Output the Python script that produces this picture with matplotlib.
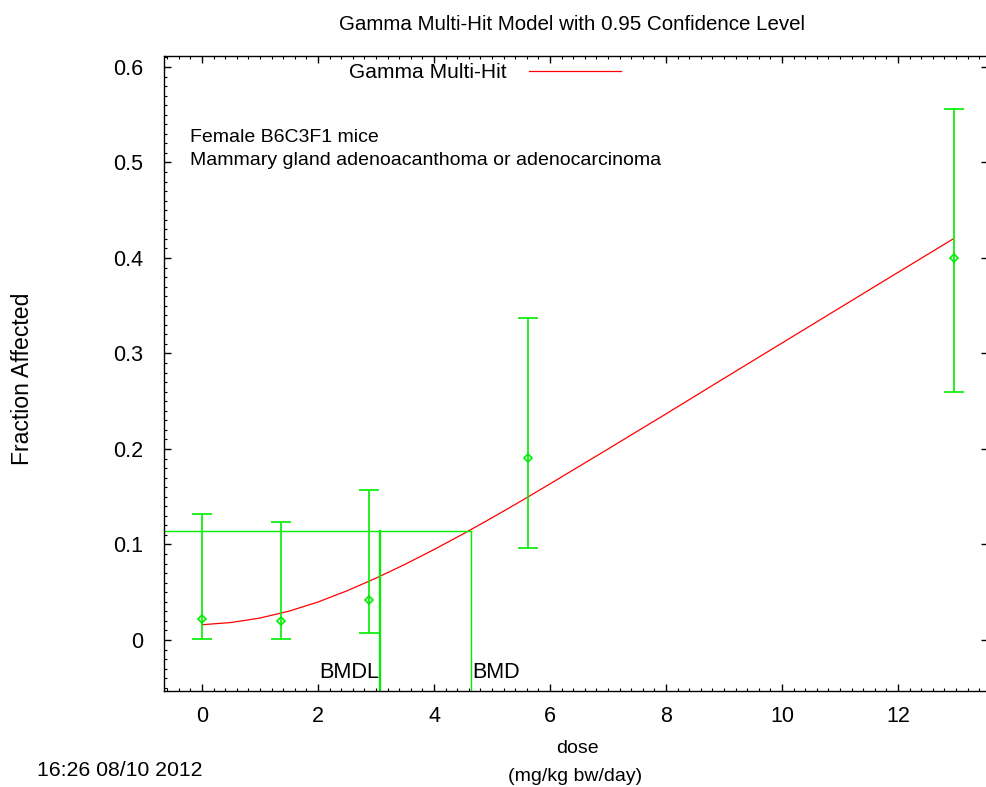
import matplotlib
matplotlib.use("Agg")
from matplotlib import pyplot as plt
from matplotlib.ticker import MultipleLocator

plt.rcParams["font.family"] = ["Liberation Sans", "DejaVu Sans"]
plt.rcParams["font.size"] = 14

# observed data
doses = [0, 1.37, 2.88, 5.62, 12.97]
frac = [0.0217, 0.0202, 0.042, 0.191, 0.400]
ci_low = [0.0007, 0.0007, 0.007, 0.096, 0.260]
ci_high = [0.1316, 0.124, 0.157, 0.337, 0.556]

# fitted gamma multi-hit curve
curve_dose = [0, 0.5, 1.0, 1.5, 2.0, 2.5, 3.0, 3.5, 4.0, 4.5, 5.0, 5.5, 6.0,
              7.0, 8.0, 9.0, 10.0, 11.0, 12.0, 12.95]
curve_frac = [0.016, 0.0183, 0.023, 0.0302, 0.0398, 0.0515, 0.0648, 0.0792,
              0.0947, 0.1110, 0.1280, 0.1455, 0.1635, 0.2000, 0.2368, 0.2740,
              0.3110, 0.3480, 0.3850, 0.4200]

BMR = 0.1141
BMD = 4.64
BMDL = 3.07

XLIM = (-0.655, 13.55)
YLIM = (-0.0534, 0.6115)

GREEN = "#00ee00"
RED = "#ff0000"

W, H = 987, 787
fig = plt.figure(figsize=(W / 100, H / 100), dpi=100)
ax = fig.add_axes([164 / W, 1 - 691 / H, (988 - 164) / W, (691 - 56) / H])

ax.plot(curve_dose, curve_frac, color=RED, lw=0.9, label="Gamma Multi-Hit")

yerr = [[f - lo for f, lo in zip(frac, ci_low)], [hi - f for f, hi in zip(frac, ci_high)]]
ax.errorbar(doses, frac, yerr=yerr, fmt="D", ms=4.5, mfc="none", mec=GREEN,
            mew=1.2, ecolor=GREEN, elinewidth=1.2, capsize=7.5, capthick=1.2)

# BMD / BMDL lines
ax.plot([XLIM[0], BMD], [BMR, BMR], color=GREEN, lw=1)
ax.plot([BMDL, BMDL], [YLIM[0], BMR], color=GREEN, lw=1.6)
ax.plot([BMD, BMD], [YLIM[0], BMR], color=GREEN, lw=1)
ax.text(BMDL - 0.02, -0.034, "BMDL", ha="right", va="center", fontsize=15.7)
ax.text(BMD + 0.02, -0.034, "BMD", ha="left", va="center", fontsize=15.5)

ax.set_xlim(*XLIM)
ax.set_ylim(*YLIM)
ax.xaxis.set_major_locator(MultipleLocator(2))
ax.xaxis.set_minor_locator(MultipleLocator(0.2))
ax.yaxis.set_minor_locator(MultipleLocator(0.01))
ax.set_yticks([0, 0.1, 0.2, 0.3, 0.4, 0.5, 0.6])
ax.set_yticklabels(["0", "0.1", "0.2", "0.3", "0.4", "0.5", "0.6"])
ax.tick_params(which="major", direction="in", length=5, width=1, top=True,
               right=True, labelsize=15.5)
ax.tick_params(axis="y", which="major", pad=15)
ax.tick_params(axis="x", which="major", pad=11)
ax.tick_params(which="minor", direction="in", length=2.5, width=0.8, top=True,
               right=False)
ax.spines["right"].set_visible(False)
for s in ["left", "bottom", "top"]:
    ax.spines[s].set_linewidth(1)

leg = ax.legend(loc="center", bbox_to_anchor=(485 / W, 1 - 73 / H),
                bbox_transform=fig.transFigure, frameon=False, markerfirst=False,
                handlelength=4.4, handletextpad=1.1, borderaxespad=0, borderpad=0,
                fontsize=15.1)

fig.text(572 / W, 1 - 30 / H, "Gamma Multi-Hit Model with 0.95 Confidence Level",
         ha="center", va="baseline", fontsize=14.8)
fig.text(190 / W, 1 - 141.7 / H, "Female B6C3F1 mice", ha="left", va="baseline")
fig.text(190 / W, 1 - 165 / H, "Mammary gland adenoacanthoma or adenocarcinoma",
         ha="left", va="baseline")
fig.text(23 / W, 1 - 379 / H, "Fraction Affected", rotation=90, ha="center",
         va="center", fontsize=16.6)
fig.text(577 / W, 1 - 753 / H, "dose", ha="center", va="baseline")
fig.text(575 / W, 1 - 781 / H, "(mg/kg bw/day)", ha="center", va="baseline")
fig.text(37 / W, 1 - 776 / H, "16:26 08/10 2012", ha="left", va="baseline",
         fontsize=15.3)

fig.savefig("out.png", dpi=100)
